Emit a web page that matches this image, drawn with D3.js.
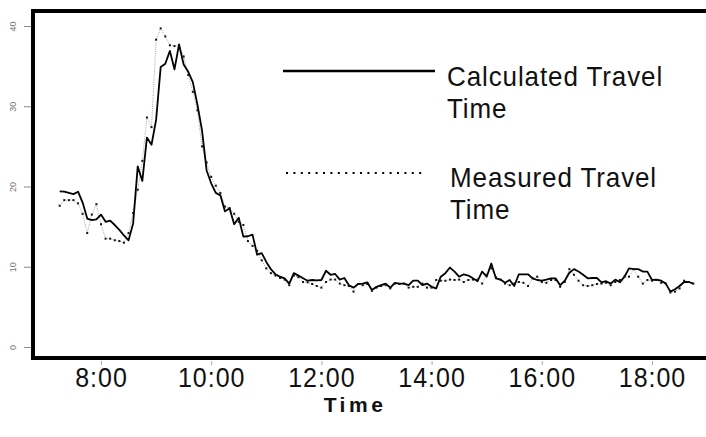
<html>
<head>
<meta charset="utf-8">
<title>Travel time</title>
<script src="https://cdn.jsdelivr.net/npm/d3@7"></script>
<style>
  body { margin: 0; background: #fff; }
  svg { display: block; }
  text { font-family: "Liberation Sans", Arial, sans-serif; }
</style>
</head>
<body>
<script>

// data: one sample every 5 minutes, 7:15 .. 18:45
var START_TIME = "7:15";
var STEP_MIN = 5;

var calculated = [
  19.4, 19.35, 19.2, 19.05, 19.35, 18.0, 16.0, 15.8, 15.9, 16.5,
  15.6, 15.75, 15.2, 14.6, 13.9, 13.3, 15.4, 22.5, 20.7, 26.1,
  25.2, 28.3, 34.9, 35.3, 36.9, 34.6, 37.7, 35.2, 34.3, 33.0,
  30.2, 27.0, 22.0, 20.4, 19.2, 18.9, 16.9, 17.3, 15.3, 16.1,
  13.75, 13.8, 14.0, 11.5, 11.7, 10.6, 9.7, 9.06, 8.76, 8.56,
  7.9, 9.2, 8.9, 8.56, 8.26, 8.35, 8.3, 8.35, 9.5, 9.0,
  9.1, 8.4, 8.6, 7.7, 7.4, 7.85, 7.9, 8.06, 7.1, 7.5,
  7.7, 7.9, 7.4, 8.0, 7.9, 7.9, 7.7, 8.26, 8.26, 7.7,
  7.9, 7.5, 7.3, 8.76, 9.2, 9.9, 9.4, 8.76, 9.06, 8.9,
  8.56, 8.2, 9.4, 8.76, 10.4, 8.56, 8.4, 8.0, 8.35, 7.6,
  9.06, 9.06, 9.06, 8.56, 8.35, 8.26, 8.4, 8.56, 8.56, 7.7,
  8.26, 9.26, 9.7, 9.4, 9.0, 8.56, 8.6, 8.6, 8.06, 8.2,
  7.9, 8.4, 8.06, 8.76, 9.8, 9.7, 9.7, 9.4, 9.4, 8.35,
  8.4, 8.26, 7.9, 6.9, 7.2, 7.6, 8.1, 8.1, 7.9
];

var measured = [
  17.6, 18.3, 18.3, 18.3, 17.9, 16.6, 14.2, 16.5, 17.8, 15.3,
  13.5, 13.5, 13.3, 13.2, 13.0, 14.2, 16.7, 19.6, 23.2, 28.6,
  27.4, 38.3, 39.7, 38.7, 37.6, 37.5, 37.6, 36.2, 33.9, 31.8,
  29.5, 25.0, 23.0, 21.2, 20.1, 19.2, 17.5, 17.3, 16.6, 15.6,
  15.2, 13.2, 12.6, 12.0, 10.8, 9.8, 9.2, 8.9, 8.6, 8.4,
  7.7, 8.9, 8.7, 8.1, 8.06, 7.85, 7.6, 7.4, 8.1, 8.4,
  8.4, 7.9, 7.7, 7.6, 6.9, 7.85, 7.7, 7.85, 7.0, 7.4,
  7.6, 7.7, 7.3, 7.9, 7.85, 7.9, 7.4, 7.5, 7.5, 7.9,
  7.4, 7.4, 8.35, 8.26, 8.26, 8.4, 8.35, 8.4, 8.1, 8.35,
  8.4, 8.4, 7.9, 9.0, 9.8, 8.7, 8.4, 7.9, 7.7, 7.9,
  8.1, 8.0, 7.6, 8.56, 8.76, 8.1, 8.0, 8.35, 8.35, 7.5,
  8.1, 9.7, 9.0, 8.26, 7.7, 7.6, 7.7, 7.85, 7.9, 8.0,
  7.7, 8.1, 8.35, 8.76, 8.76, 9.7, 8.76, 7.9, 8.35, 8.26,
  8.35, 8.0, 7.9, 6.8, 6.9, 7.3, 8.26, 8.1, 7.9
];

var x_ticks = ["8:00", "10:00", "12:00", "14:00", "16:00", "18:00"];
var y_ticks = [0, 10, 20, 30, 40];
var legend_labels = [["Calculated Travel", "Time"], ["Measured Travel", "Time"]];
var x_title = "Time";


// view
var W = 706, H = 437;
var parse_time = d3.timeParse("%H:%M");
var t0 = parse_time(START_TIME);

var x = d3.scaleTime()
  .domain([parse_time("8:00"), parse_time("18:00")])
  .range([101, 652]);
var y = d3.scaleLinear().domain([0, 40]).range([347, 26]);

function to_points(values) {
  return values.map(function(v, i) {
    return { t: d3.timeMinute.offset(t0, i * STEP_MIN), v: v };
  });
}
var calc_pts = to_points(calculated);
var meas_pts = to_points(measured);

var svg = d3.select("body").append("svg")
  .attr("width", W)
  .attr("height", H);

// y axis, small grey rotated labels
var y_axis = svg.append("g")
  .attr("transform", "translate(31,0)")
  .call(d3.axisLeft(y).tickValues(y_ticks).tickSize(7).tickSizeOuter(0));
y_axis.select(".domain").remove();
y_axis.selectAll("line").attr("stroke", "#888");
y_axis.selectAll("text")
  .attr("transform", "rotate(-90)")
  .attr("x", 0)
  .attr("y", -15)
  .attr("dy", 0)
  .attr("text-anchor", "middle")
  .attr("fill", "#777")
  .style("font-size", "9px");

// x axis
var x_axis = svg.append("g")
  .attr("transform", "translate(0,361)")
  .call(d3.axisBottom(x)
    .tickValues(x_ticks.map(parse_time))
    .tickFormat(d3.timeFormat("%-H:%M"))
    .tickSize(4)
    .tickSizeOuter(0));
x_axis.select(".domain").remove();
x_axis.selectAll("line").attr("stroke", "#aaa");
x_axis.selectAll("text")
  .attr("y", 0)
  .attr("dy", 0)
  .attr("transform", "translate(0,26) scale(1,1.08)")
  .attr("fill", "#111")
  .style("font-size", "25px")
  .style("letter-spacing", "1px");

svg.append("text")
  .attr("x", 355)
  .attr("y", 412)
  .attr("text-anchor", "middle")
  .attr("font-weight", "bold")
  .style("font-size", "21px")
  .style("letter-spacing", "3.5px")
  .attr("fill", "#111")
  .text(x_title);

// frame
svg.append("rect")
  .attr("x", 33)
  .attr("y", 11)
  .attr("width", 720)
  .attr("height", 347)
  .attr("fill", "none")
  .attr("stroke", "#000")
  .attr("stroke-width", 4);

// series
var line = d3.line()
  .x(function(d) { return x(d.t); })
  .y(function(d) { return y(d.v); });

svg.append("path")
  .datum(meas_pts)
  .attr("d", line)
  .attr("fill", "none")
  .attr("stroke", "#999")
  .attr("stroke-width", 0.9)
  .attr("stroke-dasharray", "1,1.2");

svg.append("path")
  .datum(calc_pts)
  .attr("d", line)
  .attr("fill", "none")
  .attr("stroke", "#000")
  .attr("stroke-width", 1.8)
  .attr("stroke-linejoin", "round");

svg.selectAll("rect.meas")
  .data(meas_pts)
  .enter()
  .append("rect")
  .attr("class", "meas")
  .attr("x", function(d) { return x(d.t) - 1; })
  .attr("y", function(d) { return y(d.v) - 1; })
  .attr("width", 2)
  .attr("height", 2)
  .attr("fill", "#111");

// legend
var legend = svg.selectAll("g.legend")
  .data(legend_labels)
  .enter()
  .append("g")
  .attr("class", "legend")
  .attr("transform", function(d, i) { return "translate(0," + (i * 101) + ")"; });

legend.append("line")
  .attr("x1", function(d, i) { return i ? 286 : 283; })
  .attr("x2", function(d, i) { return i ? 426 : 435; })
  .attr("y1", function(d, i) { return i ? 72 : 71; })
  .attr("y2", function(d, i) { return i ? 72 : 71; })
  .attr("stroke", "#000")
  .attr("stroke-width", function(d, i) { return i ? 2 : 2.5; })
  .attr("stroke-dasharray", function(d, i) { return i ? "2,5.4" : null; });

legend.selectAll("text")
  .data(function(d) { return d; })
  .enter()
  .append("text")
  .attr("transform", function(d, j) {
    var gx = d3.select(this.parentNode).datum() === legend_labels[1] ? 450 : 447;
    return "translate(" + gx + "," + (86 + j * 32) + ") scale(1,1.08)";
  })
  .attr("fill", "#111")
  .style("font-size", "26px")
  .style("letter-spacing", "0.9px")
  .text(function(d) { return d; });

</script>
</body>
</html>
